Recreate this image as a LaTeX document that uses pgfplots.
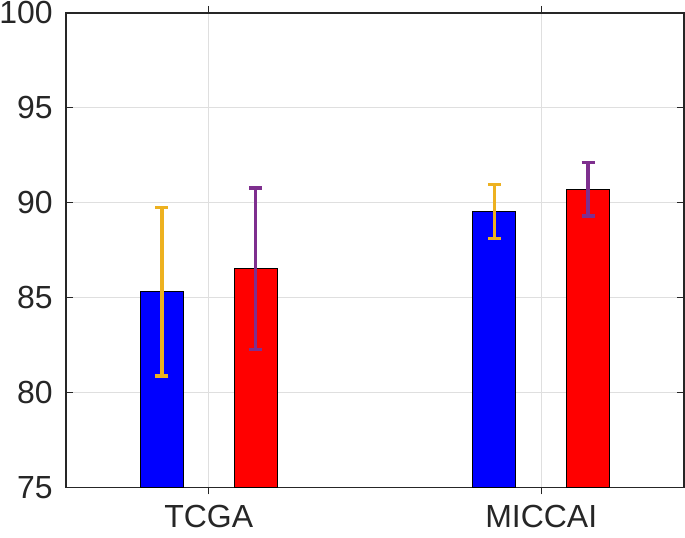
\documentclass[border=0pt]{standalone}
\usepackage{pgfplots}
\pgfplotsset{compat=1.18}
\usepackage{fontspec}
\setmainfont{Liberation Sans}
\definecolor{axgray}{HTML}{262626}
\definecolor{gridgray}{HTML}{DFDFDF}
\definecolor{myyellow}{rgb}{0.929,0.694,0.125}
\definecolor{mypurple}{rgb}{0.494,0.184,0.556}
\begin{document}
\begin{tikzpicture}
\begin{axis}[
  name=ax,
  scale only axis,
  width=619pt, height=475pt,
  xmin=0.5706, xmax=2.4294,
  ymin=75, ymax=100,
  ytick={75,80,85,90,95,100},
  xtick={1,2},
  xticklabels={TCGA,MICCAI},
  tick align=inside,
  major tick length=7pt,
  grid=major,
  major grid style={gridgray, line width=0.8pt},
  axis line style={axgray, line width=1.3pt},
  tick style={axgray, line width=1.1pt},
  /pgf/number format/assume math mode=true,
  tick label style={font=\fontsize{32}{38}\selectfont, text=axgray, inner sep=0pt},
  yticklabel style={anchor=east, xshift=-13pt},
  xticklabel style={anchor=north, yshift=-11pt},
  ybar, bar width=0.129, bar shift=0pt,
  clip=false,
]
\addplot[fill=blue, draw=black, line width=1pt,
  error bars/.cd, y dir=both, y explicit,
  error bar style={myyellow, line width=3.4pt},
  error mark options={rotate=90, mark size=6.5pt, line width=3.4pt, myyellow}]
  coordinates {(0.859,85.31) +- (0,4.44) (1.859,89.53) +- (0,1.43)};
\addplot[fill=red, draw=black, line width=1pt,
  error bars/.cd, y dir=both, y explicit,
  error bar style={mypurple, line width=3.4pt},
  error mark options={rotate=90, mark size=6.5pt, line width=3.4pt, mypurple}]
  coordinates {(1.141,86.52) +- (0,4.26) (2.141,90.71) +- (0,1.41)};
\coordinate (sw) at (rel axis cs:0,0);
\coordinate (ne) at (rel axis cs:1,1);
\end{axis}
\pgfresetboundingbox
\useasboundingbox ([xshift=-66pt,yshift=-50pt]sw) rectangle ([xshift=1pt,yshift=13pt]ne);
\end{tikzpicture}
\end{document}
